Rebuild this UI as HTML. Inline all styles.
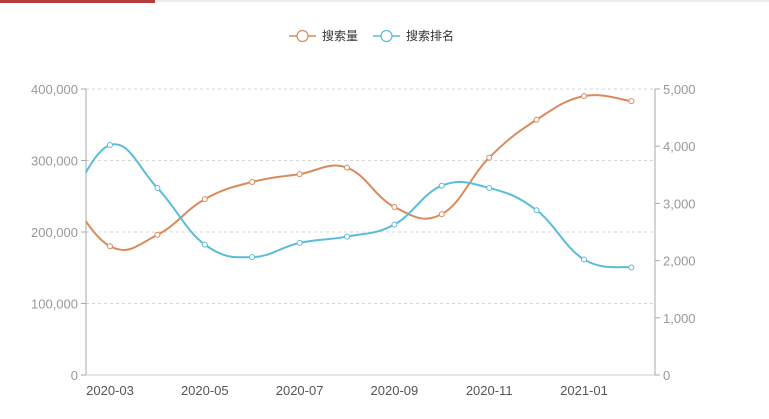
<!DOCTYPE html>
<html><head><meta charset="utf-8"><style>
body{margin:0;background:#fff;width:769px;height:414px;overflow:hidden;font-family:"Liberation Sans","Noto Sans CJK SC",sans-serif}
</style></head><body>
<svg width="769" height="414" id="c" font-family="Liberation Sans, Noto Sans CJK SC, sans-serif">
<rect x="0" y="0" width="769" height="2" fill="#ececec"/>
<rect x="0" y="0" width="155" height="3" fill="#b83b3b"/>
<g>
<g><line x1="289" y1="36" x2="316" y2="36" stroke="#da8a5c" stroke-width="1.5"/><circle cx="302.5" cy="36" r="5.5" fill="#fff" stroke="#da8a5c" stroke-width="1.2"/><text x="322" y="40" font-size="12" fill="#333">搜索量</text></g>
<g><line x1="373" y1="36" x2="400" y2="36" stroke="#5bbcd9" stroke-width="1.5"/><circle cx="386.5" cy="36" r="5.5" fill="#fff" stroke="#5bbcd9" stroke-width="1.2"/><text x="406" y="40" font-size="12" fill="#333">搜索排名</text></g>
</g>
<defs><clipPath id="clip"><rect x="86" y="60" width="569" height="320"/></clipPath></defs>
<g id="grid"></g><g id="axes"></g><g id="series" clip-path="url(#clip)"></g>
</svg>
<script>
const categories=["2020-02","2020-03","2020-04","2020-05","2020-06","2020-07","2020-08","2020-09","2020-10","2020-11","2020-12","2021-01","2021-02"];
const volume=[265000,180000,196000,246000,270000,281000,290000,235000,225000,304000,357000,390000,383000];
const rank=[2750,4020,3270,2280,2060,2310,2420,2630,3310,3270,2880,2020,1880];
const leftTicks=[0,100000,200000,300000,400000];
const rightTicks=[0,1000,2000,3000,4000,5000];
const NS="http://www.w3.org/2000/svg";
const x0=86,x1=655,yTop=89,yBot=375,step=47.4;
const xs=i=>110+(i-1)*step;
const yL=v=>yBot-(v/400000)*(yBot-yTop);
const yR=v=>yBot-(v/5000)*(yBot-yTop);
const fmt=v=>v.toLocaleString('en-US');
function el(t,a,p){const e=document.createElementNS(NS,t);for(const k in a)e.setAttribute(k,a[k]);p.appendChild(e);return e;}
const grid=document.getElementById('grid'),axes=document.getElementById('axes'),ser=document.getElementById('series');
leftTicks.forEach(v=>{const y=yL(v);
 if(v>0){const g=el('line',{x1:x0,x2:x1,y1:y,y2:y,stroke:'#d6d6d6','stroke-dasharray':'3,3'},grid);
 
 }
 el('line',{x1:x0-5,x2:x0,y1:y,y2:y,stroke:'#aaa'},axes);
 const t=el('text',{x:x0-8,y:y+5,'text-anchor':'end','font-size':13,fill:'#999'},axes);t.textContent=fmt(v);
 
 });
rightTicks.forEach(v=>{const y=yR(v);
 el('line',{x1:x1,x2:x1+5,y1:y,y2:y,stroke:'#aaa'},axes);
 const t=el('text',{x:x1+8,y:y+5,'font-size':13,fill:'#999'},axes);t.textContent=fmt(v);
 
 });
const la=el('line',{x1:x0,x2:x0,y1:yTop,y2:yBot,stroke:'#aaa'},axes);


const ra=el('line',{x1:x1,x2:x1,y1:yTop,y2:yBot,stroke:'#aaa'},axes);


const xa=el('line',{x1:x0,x2:x1,y1:yBot,y2:yBot,stroke:'#ccc'},axes);


categories.forEach((c,i)=>{if(i%2===1){const t=el('text',{x:xs(i),y:yBot+20,'text-anchor':'middle','font-size':13,fill:'#555'},axes);t.textContent=c;
 
 }});
function path(pts){let d=`M${pts[0][0]},${pts[0][1]}`;
 for(let i=0;i<pts.length-1;i++){const p0=pts[Math.max(0,i-1)],p1=pts[i],p2=pts[i+1],p3=pts[Math.min(pts.length-1,i+2)];const k=0.2;
 d+=` C${p1[0]+(p2[0]-p0[0])*k},${p1[1]+(p2[1]-p0[1])*k} ${p2[0]-(p3[0]-p1[0])*k},${p2[1]-(p3[1]-p1[1])*k} ${p2[0]},${p2[1]}`;}return d;}
function series(vals,yf,color,name){const pts=vals.map((v,i)=>[xs(i),yf(v)]);
 const p=el('path',{d:path(pts),fill:'none',stroke:color,'stroke-width':2},ser);
 
 
 pts.forEach((q,i)=>{if(i===0)return;const c=el('circle',{cx:q[0],cy:q[1],r:2.5,fill:'#fff',stroke:color,'stroke-width':1},ser);
 
 });}
series(volume,yL,'#da8a5c','search-volume');
series(rank,yR,'#5bbcd9','search-rank');
</script>
</body></html>
